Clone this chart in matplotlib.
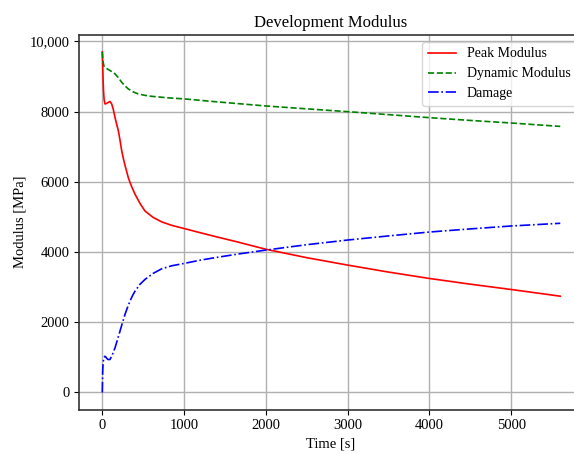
import matplotlib
matplotlib.use("Agg")
import matplotlib.pyplot as plt

plt.rcParams['font.family'] = ['Liberation Serif', 'DejaVu Serif']

# time [s] and modulus [MPa]
time_peak = [0, 5, 10, 15, 22, 33, 50, 70, 94, 115, 135, 155, 175, 196, 216, 237, 260,
             280, 300, 318, 340, 360, 400, 460, 522, 620, 726, 850, 1002, 1200, 1369,
             1650, 2000, 2500, 3000, 3500, 4000, 4500, 5000, 5600]
peak_modulus = [9700, 9300, 8900, 8600, 8350, 8220, 8230, 8260, 8290, 8220, 8060, 7840,
                7650, 7460, 7200, 6890, 6640, 6450, 6280, 6120, 5980, 5860, 5650, 5390,
                5170, 4990, 4860, 4760, 4670, 4550, 4450, 4290, 4080, 3840, 3629, 3430,
                3248, 3085, 2934, 2743]

time_dyn = [0, 5, 10, 20, 33, 60, 94, 125, 155, 200, 237, 280, 318, 380, 440, 520, 603,
            800, 1002, 1369, 2000, 2500, 3000, 3500, 4000, 4500, 5000, 5600]
dynamic_modulus = [9700, 9550, 9420, 9300, 9266, 9220, 9171, 9130, 9077, 8960, 8837,
                   8730, 8648, 8560, 8506, 8465, 8437, 8395, 8363, 8286, 8162, 8080,
                   8000, 7915, 7829, 7750, 7677, 7580]

time_dmg = [0, 5, 10, 20, 30, 41, 55, 70, 94, 120, 155, 185, 216, 247, 277, 308, 338,
            370, 400, 460, 522, 620, 726, 850, 1002, 1200, 1369, 1650, 2000, 2500, 3000,
            3500, 4000, 4500, 5000, 5600]
damage = [0, 600, 850, 990, 1030, 1020, 970, 940, 940, 1060, 1266, 1500, 1743, 1990,
          2220, 2420, 2600, 2760, 2886, 3080, 3220, 3390, 3523, 3610, 3677, 3770, 3837,
          3940, 4057, 4210, 4343, 4460, 4571, 4660, 4743, 4820]

y_ticks = [0, 2000, 4000, 6000, 8000, 10000]
y_tick_labels = ['0', '2000', '4000', '6000', '8000', '10,000']
x_ticks = [0, 1000, 2000, 3000, 4000, 5000]

fig = plt.figure(figsize=(5.74, 4.54), dpi=100)
# the plotting area runs past the right edge of the canvas
ax = fig.add_axes([0.1383, 0.098, 0.966, 0.825])

ax.plot(time_peak, peak_modulus, color='red', linestyle='-', linewidth=1.2, label='Peak Modulus')
ax.plot(time_dyn, dynamic_modulus, color='green', linestyle='--', linewidth=1.2, label='Dynamic Modulus')
ax.plot(time_dmg, damage, color='blue', linestyle='-.', linewidth=1.2, label='Damage')

ax.set_xlim(-280, 6500)
ax.set_xticks(x_ticks)
ax.set_yticks(y_ticks)
ax.set_yticklabels(y_tick_labels)
ax.tick_params(labelsize=10.5)
ax.grid(True, color='#b0b0b0', linewidth=1.0)

for spine in ax.spines.values():
    spine.set_color('#333333')
    spine.set_linewidth(1.2)
ax.spines['right'].set_visible(False)

# centre the title and x label on the visible part of the axes
ax.set_title('Development Modulus', fontsize=12, x=0.454)
ax.set_xlabel('Time [s]', fontsize=10.5, x=0.454)
ax.set_ylabel('Modulus [MPa]', fontsize=10.5, labelpad=2)
ax.legend(loc='upper right', bbox_to_anchor=(0.9084, 1.0), fontsize=10)

fig.savefig('out.png', dpi=100)
